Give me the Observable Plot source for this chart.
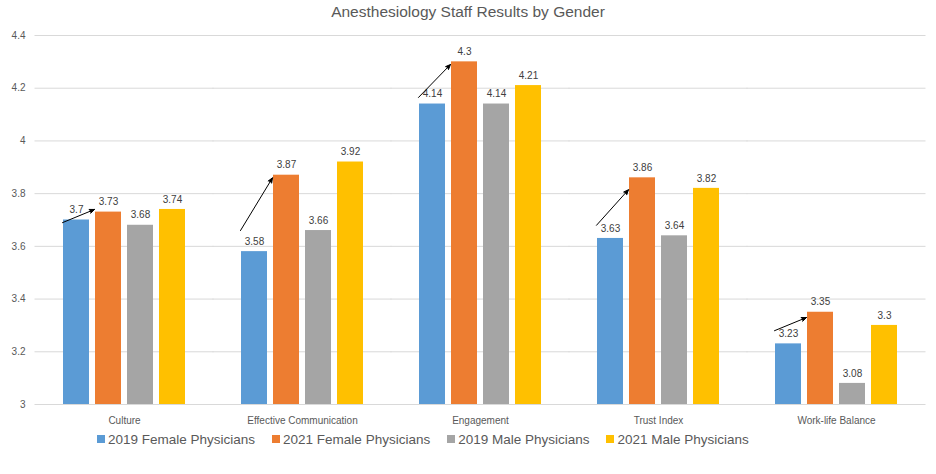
<!DOCTYPE html>
<html>
<head>
<meta charset="utf-8">
<script src="https://cdn.jsdelivr.net/npm/d3@7"></script>
<script src="https://cdn.jsdelivr.net/npm/@observablehq/plot@0.6"></script>
<style>
  body { margin: 0; background: #fff; font-family: "Liberation Sans", Arial, sans-serif; }
  #wrap { width: 936px; height: 474px; position: relative; }
  #title { height: 24px; line-height: 24px; text-align: center; font-size: 15.5px; color: #595959; padding-left: 0px; }
  #legend { display: flex; gap: 0; padding-left: 97px; font-size: 13.5px; color: #595959; height: 18px; align-items: center; }
  .item { display: flex; align-items: center; margin-right: 17px; }
  .sw { width: 8px; height: 8px; margin-right: 3px; }
</style>
</head>
<body>
<div id="wrap">
  <div id="title">Anesthesiology Staff Results by Gender</div>
  <div id="chart"></div>
  <div id="legend"></div>
</div>
<script>
const categories = ["Culture", "Effective Communication", "Engagement", "Trust Index", "Work-life Balance"];
const series = ["2019 Female Physicians", "2021 Female Physicians", "2019 Male Physicians", "2021 Male Physicians"];
const colors = ["#5B9BD5", "#ED7D31", "#A5A5A5", "#FFC000"];
const female2019 = [3.7, 3.58, 4.14, 3.63, 3.23];
const female2021 = [3.73, 3.87, 4.3, 3.86, 3.35];
const male2019 = [3.68, 3.66, 4.14, 3.64, 3.08];
const male2021 = [3.74, 3.92, 4.21, 3.82, 3.3];
const arrowFrom = [3.69, 3.66, 4.165, 3.68, 3.28];
const arrowTo = [3.74, 3.86, 4.29, 3.815, 3.33];
const yTicks = [3, 3.2, 3.4, 3.6, 3.8, 4, 4.2, 4.4];

const valuesBySeries = [female2019, female2021, male2019, male2021];
const data = [];
categories.forEach((c, i) => {
  series.forEach((s, j) => data.push({category: c, series: s, value: valuesBySeries[j][i]}));
});
const arrows = categories.map((c, i) => ({
  category: c, from: series[0], to: series[1], y1: arrowFrom[i], y2: arrowTo[i]
}));

const chart = Plot.plot({
  width: 936,
  height: 406,
  marginLeft: 60,
  marginRight: 35,
  marginTop: 11,
  marginBottom: 26,
  style: {fontFamily: "Liberation Sans, Arial, sans-serif", fontSize: "10px", color: "#595959", background: "#fff", overflow: "visible"},
  fx: {domain: categories, paddingInner: 0.28, paddingOuter: 0, label: null, axis: "bottom", tickSize: 0, tickPadding: 12},
  x: {domain: series, paddingInner: 0.18, paddingOuter: 0.09, axis: null},
  y: {domain: [3, 4.4], ticks: yTicks, tickFormat: d => String(+d.toFixed(1)), label: null, tickSize: 0, tickPadding: 35},
  color: {domain: series, range: colors},
  marks: [
    Plot.ruleY(yTicks, {stroke: "#d9d9d9", strokeWidth: 1, insetLeft: -25.5, insetRight: -25.5}),
    Plot.barY(data, {fx: "category", x: "series", y1: 3, y2: "value", fill: "series"}),
    Plot.text(data, {fx: "category", x: "series", y: "value", text: d => String(d.value), dy: -10, fill: "#404040", fontSize: 10}),
    Plot.arrow(arrows, {fx: "category", x1: "from", x2: "to", y1: "y1", y2: "y2", dx: -14, stroke: "#000", fill: "#000", strokeWidth: 1, headLength: 8, headAngle: 45})
  ]
});
document.getElementById("chart").appendChild(chart);

const legend = document.getElementById("legend");
series.forEach((s, j) => {
  const it = document.createElement("div");
  it.className = "item";
  const sw = document.createElement("div");
  sw.className = "sw";
  sw.style.background = colors[j];
  const t = document.createElement("span");
  t.textContent = s;
  it.appendChild(sw); it.appendChild(t);
  legend.appendChild(it);
});
</script>
</body>
</html>
